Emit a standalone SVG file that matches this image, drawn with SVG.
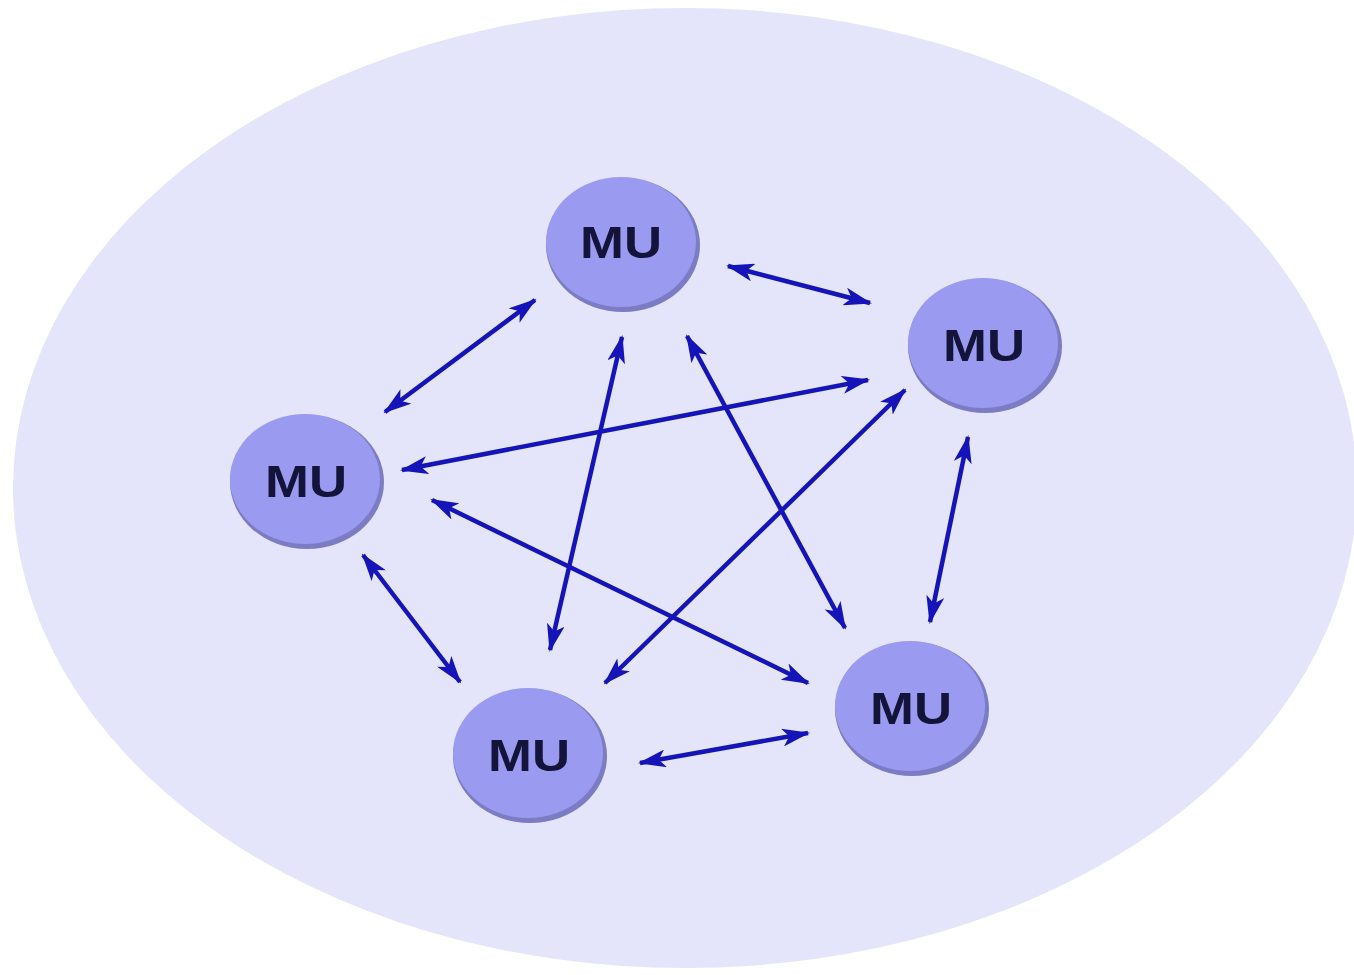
<svg xmlns="http://www.w3.org/2000/svg" width="1354" height="975" viewBox="0 0 1354 975">
<defs>
<style>
.node ellipse.shadow{fill:#7c7cc4;}
.node ellipse.body{fill:#9a9af0;}
.node text{font-family:"Liberation Sans",Arial,sans-serif;font-weight:bold;font-size:45px;fill:#14143a;text-anchor:middle;}
#connectors line{stroke:#1414b8;stroke-width:4.5;marker-start:url(#ah);marker-end:url(#ah);}
</style>
<marker id="ah" viewBox="0 0 28 18" refX="26" refY="9" markerWidth="28" markerHeight="18" markerUnits="userSpaceOnUse" orient="auto-start-reverse">
<path d="M0,0 L28,9 L0,18 L7,9 Z" fill="#1414b8"/>
</marker>
</defs>
<rect width="1354" height="975" fill="#ffffff"/>
<ellipse cx="685" cy="488" rx="672" ry="480" fill="#e4e4fa"/>
<g id="connectors">
<line x1="535" y1="300" x2="385" y2="412"/>
<line x1="728" y1="266" x2="870" y2="303"/>
<line x1="622" y1="337" x2="550" y2="650"/>
<line x1="687" y1="336" x2="845" y2="628"/>
<line x1="868" y1="380" x2="402" y2="470"/>
<line x1="905" y1="390" x2="605" y2="683"/>
<line x1="968" y1="437" x2="930" y2="622"/>
<line x1="432" y1="500" x2="808" y2="683"/>
<line x1="363" y1="555" x2="460" y2="682"/>
<line x1="640" y1="763" x2="808" y2="733"/>
</g>
<g id="node-top" class="node">
<ellipse class="shadow" cx="623" cy="245" rx="77" ry="67"/>
<ellipse class="body" cx="621" cy="242" rx="75" ry="65"/>
<text x="621" y="258" textLength="82" lengthAdjust="spacingAndGlyphs">MU</text>
</g>
<g id="node-right" class="node">
<ellipse class="shadow" cx="985" cy="346" rx="77" ry="67"/>
<ellipse class="body" cx="983" cy="343" rx="75" ry="65"/>
<text x="984" y="361" textLength="82" lengthAdjust="spacingAndGlyphs">MU</text>
</g>
<g id="node-left" class="node">
<ellipse class="shadow" cx="307" cy="482" rx="77" ry="67"/>
<ellipse class="body" cx="305" cy="479" rx="75" ry="65"/>
<text x="306" y="497" textLength="82" lengthAdjust="spacingAndGlyphs">MU</text>
</g>
<g id="node-bottom-left" class="node">
<ellipse class="shadow" cx="530" cy="756" rx="77" ry="67"/>
<ellipse class="body" cx="528" cy="753" rx="75" ry="65"/>
<text x="529" y="771" textLength="82" lengthAdjust="spacingAndGlyphs">MU</text>
</g>
<g id="node-bottom-right" class="node">
<ellipse class="shadow" cx="912" cy="709" rx="77" ry="67"/>
<ellipse class="body" cx="910" cy="706" rx="75" ry="65"/>
<text x="911" y="724" textLength="82" lengthAdjust="spacingAndGlyphs">MU</text>
</g>
</svg>
